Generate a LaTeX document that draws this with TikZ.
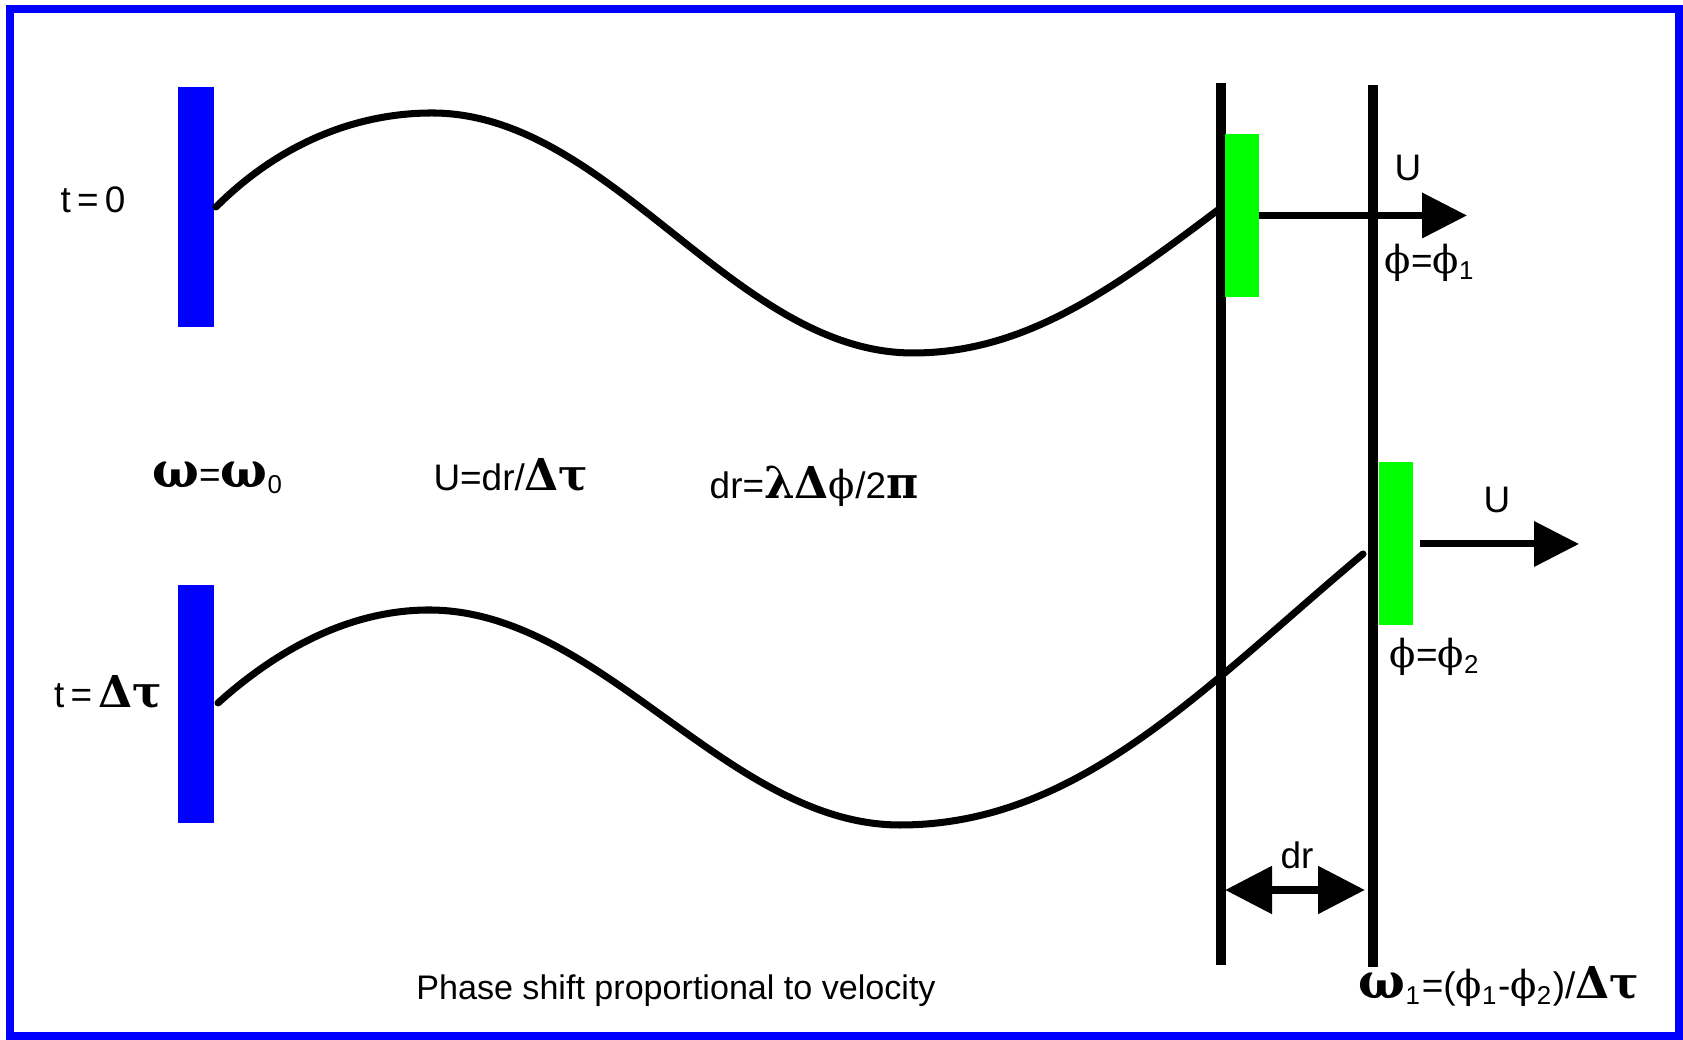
\documentclass[tikz,border=0pt]{standalone}
\usepackage{fontspec}
\setmainfont{Liberation Sans}
\newfontfamily\grk{DejaVu Serif}
\usetikzlibrary{arrows.meta}
\newcommand{\gr}[1]{{\grk\bfseries\fontsize{12.5}{12}\selectfont #1}}
\newcommand{\om}{{\grk\bfseries\fontsize{14}{12}\selectfont ω}}
\newcommand{\ph}{{\grk\fontsize{11}{12}\selectfont ϕ}}

\begin{document}
\begin{tikzpicture}[x=1cm,y=1cm,
  lbl/.style={font=\fontsize{10.5}{12}\selectfont,inner sep=0pt},
  wave/.style={line width=2pt,line cap=round},
  wall/.style={line width=2.6pt},
  patch/.style={fill=green,inner sep=0pt,minimum width=0.34cm,minimum height=1.63cm},
  bigarrow/.style={line width=2pt,-{Triangle[length=0.45cm,width=0.44cm]}}]
  \useasboundingbox (0,0) rectangle (16.83,10.40);
  \draw[blue,line width=0.08cm] (0.105,0.04) rectangle (16.79,10.31);

  % Sender bars.
  \fill[blue] (1.78,7.13) rectangle (2.14,9.53);
  \fill[blue] (1.78,2.17) rectangle (2.14,4.55);
  \node[lbl] (tzero) at (0.93,8.40) {t\,=\,0};
  \node[lbl] (tdelta) at (1.08,3.48) {t\,=\,\gr{Δτ}};

  % Waves at both times.
  \draw[wave] (2.16,8.33) to[out=45,in=180,in looseness=0.8] (4.32,9.27)
    to[out=0,in=180,looseness=0.85] (9.13,6.87)
    to[out=0,in=217,out looseness=0.85] (12.18,8.30);
  \draw[wave] (2.18,3.37) to[out=42,in=180,in looseness=0.8] (4.29,4.30)
    to[out=0,in=180,looseness=0.85] (9.00,2.15)
    to[out=0,in=220,out looseness=0.85] (13.63,4.86);

  % Wave fronts.
  \coordinate (fronta) at (12.21,9.57);
  \coordinate (frontb) at (13.73,9.55);
  \draw[wall] (fronta) -- (12.21,0.75);
  \draw[wall] (frontb) -- (13.73,0.73);

  % Phase markers and velocity.
  \node[patch] (marka) at (12.415,8.245) {};
  \node[patch] (markb) at (13.955,4.96) {};
  \coordinate (tipa) at (14.67,8.30);
  \coordinate (tipb) at (15.79,4.98);
  \draw[bigarrow] (marka.east) -- (marka.east -| tipa);
  \draw[bigarrow] ([xshift=0.07cm]markb.east) -- (markb.east -| tipb);
  \node[lbl] (ua) at (14.08,8.72) {U};
  \node[lbl] (phia) at (14.30,7.77) {\ph=\ph\textsubscript{1}};
  \node[lbl] (ub) at (14.97,5.40) {U};
  \node[lbl] (phib) at (14.35,3.83) {\ph=\ph\textsubscript{2}};

  % Distance between fronts.
  \coordinate (dra) at (12.25,1.50);
  \coordinate (drb) at (13.65,1.50);
  \draw[line width=2.4pt,{Triangle[length=0.47cm,width=0.46cm]}-{Triangle[length=0.47cm,width=0.46cm]}] (dra) -- (drb);
  \node[lbl] (drl) at (12.97,1.85) {dr};

  % Relations.
  \node[lbl] (omz) at (2.18,5.62) {\om=\om\textsubscript{0}};
  \node[lbl] (uvel) at (5.11,5.65) {U=dr/\gr{Δτ}};
  \node[lbl] (drel) at (8.14,5.54) {dr=\gr{λΔ}\ph/2\gr{π}};
  \node[lbl] (omone) at (14.99,0.53) {\om\textsubscript{1}=(\ph\textsubscript{1}-\ph\textsubscript{2})/\gr{Δτ}};
  \node[lbl,font=\fontsize{9.7}{12}\selectfont] (title) at (6.76,0.49) {Phase shift proportional to velocity};
\end{tikzpicture}
\end{document}
